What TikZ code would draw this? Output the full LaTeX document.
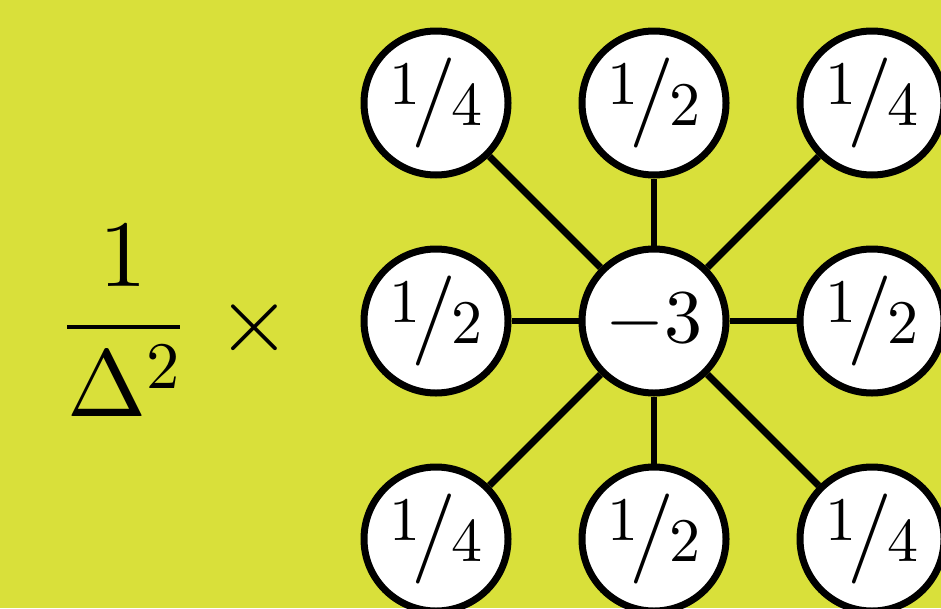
\documentclass[tikz,border=0pt]{standalone}
% use the 10pt design of Computer Modern at every size
\DeclareFontShape{OT1}{cmr}{m}{n}{<-> cmr10}{}
\DeclareFontShape{OML}{cmm}{m}{it}{<-> cmmi10}{}
\DeclareFontShape{OMS}{cmsy}{m}{n}{<-> cmsy10}{}
\DeclareFontShape{OMX}{cmex}{m}{n}{<-> cmex10}{}
\definecolor{bgyellow}{RGB}{217,224,58}
% slanted fraction: raised numerator, tall slash, lowered denominator
\newcommand\slashfrac[2]{\fontsize{62}{62}\selectfont\raisebox{21pt}{$#1$}\kern-9pt{\fontsize{90}{90}\selectfont$/$}\kern-4.6pt$#2$}
\tikzset{
  site/.style={circle, draw=black, fill=white, line width=7pt, minimum size=144pt, inner sep=0pt},
  link/.style={draw=black, line width=6.8pt},
  bigmath/.style={anchor=base, inner sep=0pt, font=\fontsize{95}{95}\selectfont}
}
\begin{document}
\begin{tikzpicture}[x=1pt, y=-1pt]
  \useasboundingbox (0,0) rectangle (941,608);
  \fill[bgyellow] (0,0) rectangle (941,608);

  % prefactor
  \node[bigmath] (frac) at (123.5,351) {$\displaystyle\frac{1}{\Delta^2}$};
  \node[bigmath] (times) at (254.5,351) {$\times$};

  % nine-point stencil
  \node[site] (c)  at (654,321) {\fontsize{76}{76}\selectfont$-3$};
  \node[site] (nw) at (436,103) {\slashfrac{1}{4}};
  \node[site] (n)  at (654,103) {\slashfrac{1}{2}};
  \node[site] (ne) at (872,103) {\slashfrac{1}{4}};
  \node[site] (w)  at (436,321) {\slashfrac{1}{2}};
  \node[site] (e)  at (872,321) {\slashfrac{1}{2}};
  \node[site] (sw) at (436,539) {\slashfrac{1}{4}};
  \node[site] (s)  at (654,539) {\slashfrac{1}{2}};
  \node[site] (se) at (872,539) {\slashfrac{1}{4}};

  \foreach \o in {nw,n,ne,w,e,sw,s,se}
    \draw[link] (c) -- (\o);
\end{tikzpicture}
\end{document}
